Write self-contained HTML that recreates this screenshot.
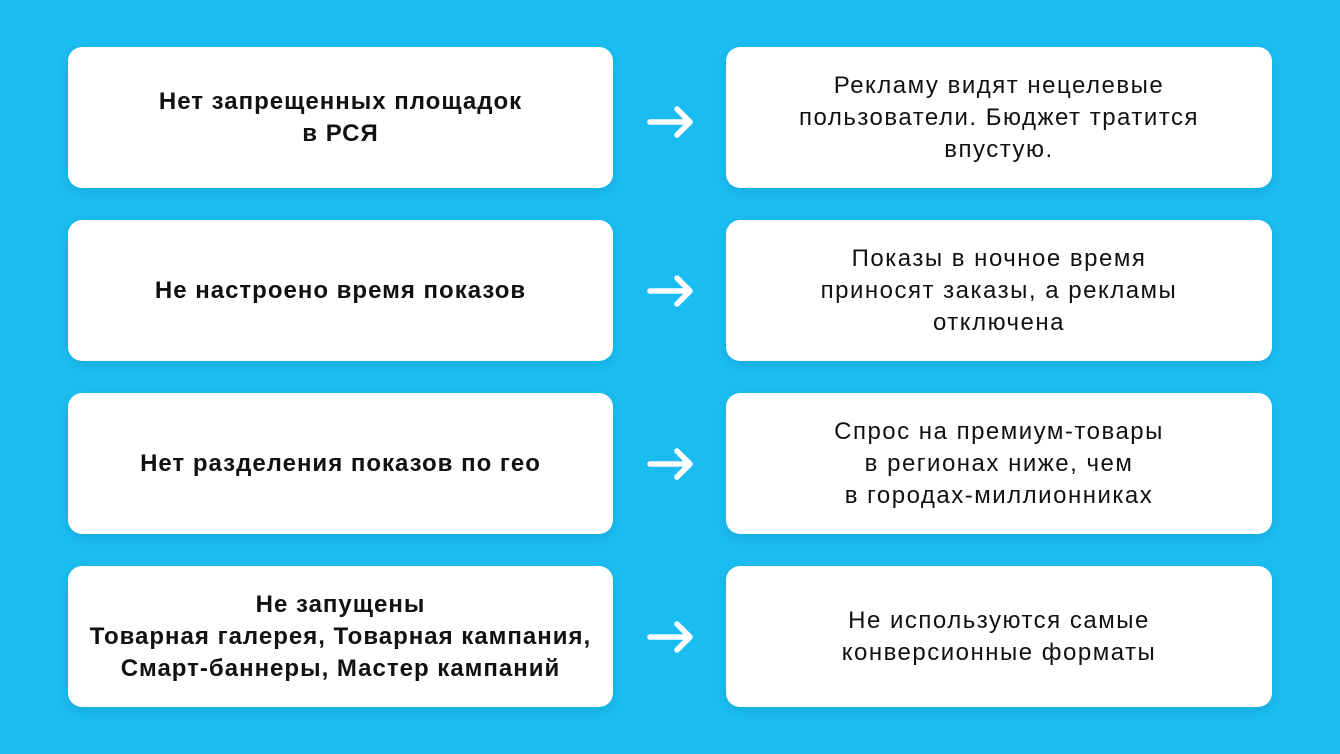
<!DOCTYPE html>
<html><head><meta charset="utf-8"><style>
body{margin:0;width:1340px;height:754px;background:#1bbcf0;position:relative;overflow:hidden;font-family:"Liberation Sans","DejaVu Sans",sans-serif;color:#111}
.b{position:absolute;width:545px;height:141px;background:#fff;border-radius:14px;display:flex;align-items:center;justify-content:center;text-align:center;font-size:24px;line-height:32px;letter-spacing:1px;box-shadow:0 4px 10px rgba(0,60,100,0.12)}
.l{left:68px;font-weight:bold}
.r{left:726px;width:546px;letter-spacing:1.5px}
svg{position:absolute;left:644px}
</style></head><body>
<div class="b l" style="top:47px">Нет запрещенных площадок<br>в РСЯ</div>
<div class="b r" style="top:47px">Рекламу видят нецелевые<br>пользователи. Бюджет тратится<br>впустую.</div>
<div class="b l" style="top:220px">Не настроено время показов</div>
<div class="b r" style="top:220px">Показы в ночное время<br>приносят заказы, а рекламы<br>отключена</div>
<div class="b l" style="top:393px">Нет разделения показов по гео</div>
<div class="b r" style="top:393px">Спрос на премиум-товары<br>в регионах ниже, чем<br>в городах-миллионниках</div>
<div class="b l" style="top:566px">Не запущены<br>Товарная галерея, Товарная кампания,<br>Смарт-баннеры, Мастер кампаний</div>
<div class="b r" style="top:566px">Не используются самые<br>конверсионные форматы</div>
<svg style="top:102px" width="54" height="40"><path d="M6 20H46M33 7L46 20L33 33" stroke="#fff" stroke-width="5.5" fill="none" stroke-linecap="round" stroke-linejoin="round"/></svg>
<svg style="top:271px" width="54" height="40"><path d="M6 20H46M33 7L46 20L33 33" stroke="#fff" stroke-width="5.5" fill="none" stroke-linecap="round" stroke-linejoin="round"/></svg>
<svg style="top:444px" width="54" height="40"><path d="M6 20H46M33 7L46 20L33 33" stroke="#fff" stroke-width="5.5" fill="none" stroke-linecap="round" stroke-linejoin="round"/></svg>
<svg style="top:617px" width="54" height="40"><path d="M6 20H46M33 7L46 20L33 33" stroke="#fff" stroke-width="5.5" fill="none" stroke-linecap="round" stroke-linejoin="round"/></svg>
</body></html>
